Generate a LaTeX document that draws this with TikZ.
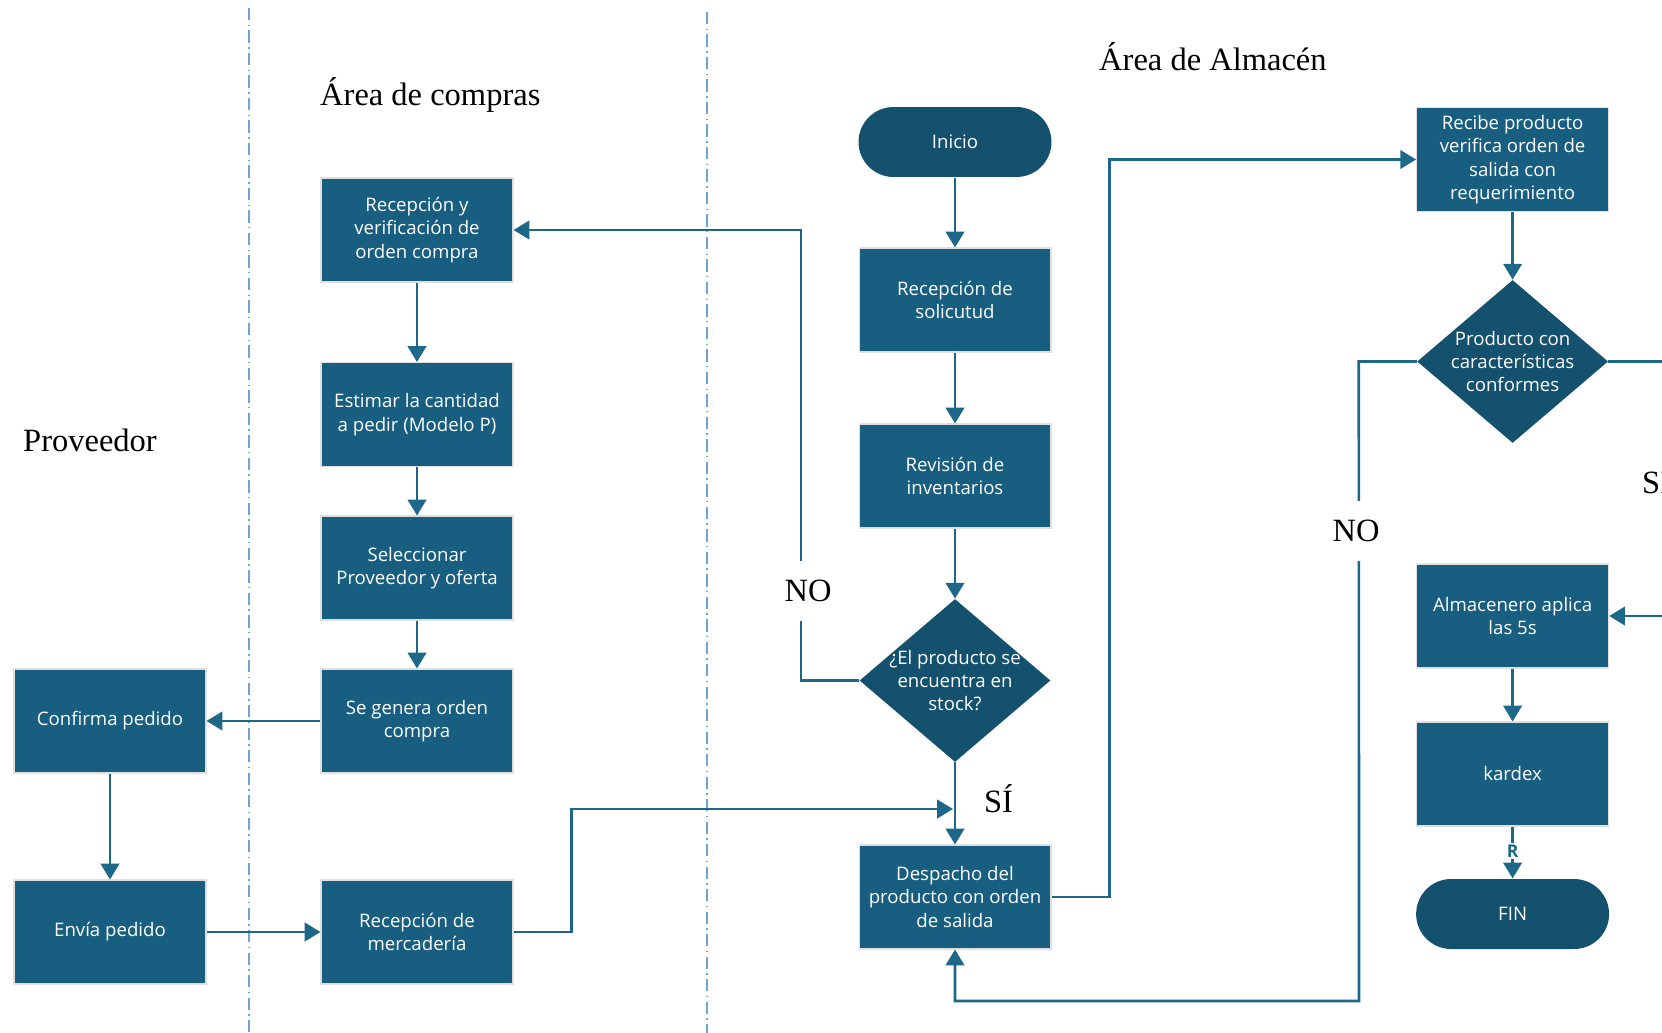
\documentclass[tikz,border=0pt]{standalone}
\usepackage{fontspec}
\setmainfont{Liberation Serif}
\newfontfamily\boxfont{Open Sans}
\usepackage{tikz}
\usetikzlibrary{calc}
\usetikzlibrary{shapes.geometric,arrows.meta}
\definecolor{boxblue}{HTML}{175E80}
\definecolor{darkblue}{HTML}{13516E}
\definecolor{lineblue}{HTML}{1D6888}
\definecolor{laneblue}{HTML}{6FA3D8}

\begin{document}
\begin{tikzpicture}[x=0.02cm, y=-0.02cm,
    process/.style={rectangle, fill=boxblue, draw=gray!25, line width=0.6pt,
      minimum width=3.84cm, minimum height=2.08cm, align=center,
      text=white, font=\boxfont\fontsize{10.6}{13.3}\selectfont},
    terminal/.style={process, fill=darkblue, draw=none, rounded corners=0.7cm,
      minimum width=3.86cm, minimum height=1.4cm},
    decision/.style={diamond, fill=darkblue, minimum width=3.82cm,
      minimum height=3.26cm, inner sep=0pt},
    dtext/.style={align=center, text=white, font=\boxfont\fontsize{10.6}{13.3}\selectfont},
    flow/.style={draw=lineblue, line width=1.5pt, -{Triangle[length=9pt,width=10.5pt]}},
    lane/.style={draw=laneblue, line width=0.7pt,
      dash pattern=on 7pt off 2.5pt on 0.8pt off 2.5pt},
    title/.style={font=\fontsize{18.5}{22}\selectfont},
    answer/.style={title, fill=white, inner sep=4pt}
  ]
    \useasboundingbox (0,0) rectangle (1662,1033);
    \clip (0,0) rectangle (1662,1033);

    % swimlane separators
    \draw [lane] (249,8) -- (249,1033);
    \draw [lane] (707,12) -- (707,1033);

    % lane titles
    \node [title, anchor=west] (prov) at (17,440) {Proveedor};
    \node [title, anchor=west] (compras) at (314,95) {Área de compras};
    \node [title, anchor=west] (almacen) at (1093,57) {Área de Almacén};

    % proveedor
    \node [process] (confirma) at (110,721) {Confirma pedido};
    \node [process] (envia) at (110,932) {Envía pedido};

    % compras
    \node [process] (recv) at (417,230) {Recepción y\\verificación de\\orden compra};
    \node [process] (est) at (417,414.5) {Estimar la cantidad\\a pedir (Modelo P)};
    \node [process] (sel) at (417,568) {Seleccionar\\Proveedor y oferta};
    \node [process] (gen) at (417,721) {Se genera orden\\compra};
    \node [process] (merc) at (417,932) {Recepción de\\mercadería};

    % almacen, first column
    \node [terminal] (inicio) at (955,142) {Inicio};
    \node [process] (sol) at (955,300) {Recepción de\\solicutud};
    \node [process] (rev) at (955,476) {Revisión de\\inventarios};
    \node [decision] (stock) at (955,680.5) {};
    \node [dtext] (stock-t) at (stock) {¿El producto se\\encuentra en\\stock?};
    \node [process] (desp) at (955,897) {Despacho del\\producto con orden\\de salida};

    % almacen, second column
    \node [process] (recibe) at (1512.6,159.5) {Recibe producto\\verifica orden de\\salida con\\requerimiento};
    \node [decision] (conf) at (1512.6,361.5) {};
    \node [dtext] (conf-t) at (conf) {Producto con\\características\\conformes};
    \node [process] (alm) at (1512.6,616) {Almacenero aplica\\las 5s};
    \node [process] (kardex) at (1512.6,774) {kardex};
    \node [terminal] (fin) at (1512.6,914) {FIN};

    \coordinate (join) at (953,809);
    \coordinate (loop) at (1359,1001);
    \coordinate (edge-si) at (1700,361.5);
    \coordinate (edge-in) at (1700,616);

    % main flow
    \draw [flow] (inicio) -- (sol);
    \draw [flow] (sol) -- (rev);
    \draw [flow] (rev) -- (stock);
    \draw [flow] (stock) -- (desp);
    \draw [flow] (stock.west) -- ++(-58,0) |- (recv.east);
    \draw [flow] (recv) -- (est);
    \draw [flow] (est) -- (sel);
    \draw [flow] (sel) -- (gen);
    \draw [flow] (gen) -- (confirma);
    \draw [flow] (confirma) -- (envia);
    \draw [flow] (envia) -- (merc);
    \draw [flow] (merc.east) -- ++(58,0) |- (join);
    \draw [flow] (desp.east) -- ++(58,0) |- (recibe.west);
    \draw [flow] (recibe) -- (conf);
    \draw [flow] (conf.west) -- ++(-58,0) -- (loop) -| (desp.south);
    \draw [flow, -] (conf.east) -- (edge-si);
    \draw [flow] (edge-in) -- (alm.east);
    \draw [flow] (alm) -- (kardex);
    \draw [flow] (kardex) -- (fin);

    % answers
    \node [answer, minimum height=1.2cm] (no-stock) at (808,591) {NO};
    \node [title] (si-stock) at (998.5,799) {SÍ};
    \node [answer, minimum height=1.2cm] (no-conf) at (1356,531) {NO};
    \node [title, anchor=west] (si-conf) at (1636,480) {SÍ};
    \node [fill=white, inner sep=1pt, text=lineblue,
      font=\boxfont\bfseries\fontsize{10}{11}\selectfont] (rmark) at (1512.6,851) {R};
\end{tikzpicture}
\end{document}
